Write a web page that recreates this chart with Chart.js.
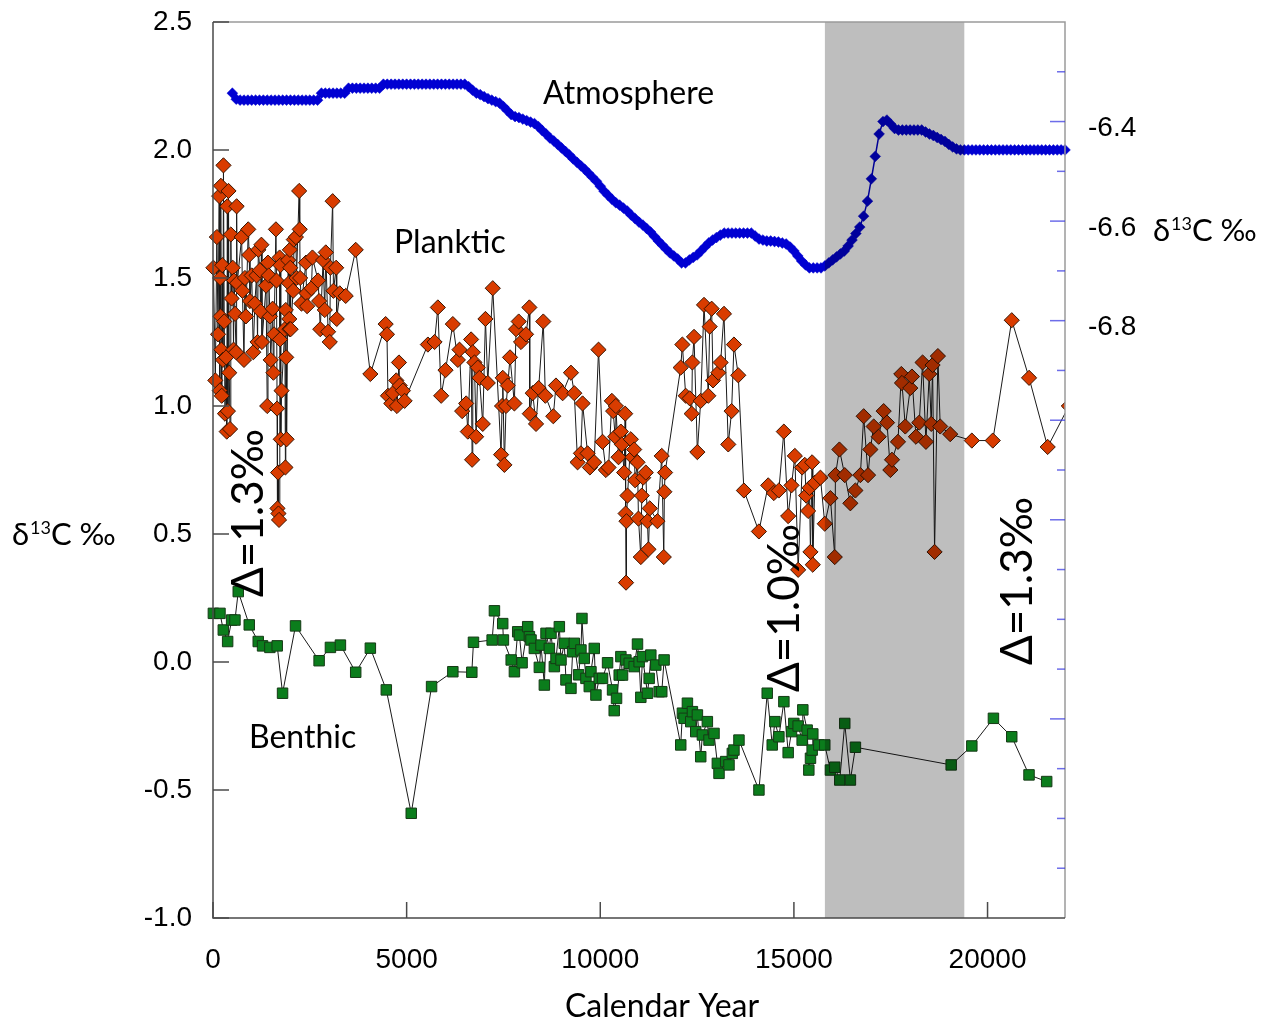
<!DOCTYPE html>
<html><head><meta charset="utf-8">
<script src="https://cdn.jsdelivr.net/npm/chart.js@4/dist/chart.umd.min.js"></script>
<style>html,body{margin:0;padding:0;background:#fff;}#wrap{width:1270px;height:1025px;}</style>
</head><body><div id="wrap"><canvas id="c" width="1270" height="1025"></canvas></div>
<script>
// ---------- DATA ----------
const xTickValues = [0, 5000, 10000, 15000, 20000];
const yTickValues = [-1.0, -0.5, 0.0, 0.5, 1.0, 1.5, 2.0, 2.5];
const rightTickValues = [-6.3,-6.4,-6.5,-6.6,-6.7,-6.8,-6.9,-7.0,-7.1,-7.2,-7.3,-7.4,-7.5,-7.6,-7.7,-7.8,-7.9];
const rightLabelValues = [-6.4, -6.6, -6.8];
const rightLongTicks = [-6.4, -6.6, -6.8, -7.0, -7.2, -7.6];
const bandRange = [15800, 19400];

const atmosYears = [500,600,700,800,900,1000,1100,1200,1300,1400,1500,1600,1700,1800,1900,2000,2100,2200,2300,2400,2500,2600,2700,2800,2900,3000,3100,3200,3300,3400,3500,3600,3700,3800,3900,4000,4100,4200,4300,4400,4500,4600,4700,4800,4900,5000,5100,5200,5300,5400,5500,5600,5700,5800,5900,6000,6100,6200,6300,6400,6500,6600,6700,6800,6900,7000,7100,7200,7300,7400,7500,7600,7700,7800,7900,8000,8100,8200,8300,8400,8500,8600,8700,8800,8900,9000,9100,9200,9300,9400,9500,9600,9700,9800,9900,10000,10100,10200,10300,10400,10500,10600,10700,10800,10900,11000,11100,11200,11300,11400,11500,11600,11700,11800,11900,12000,12100,12200,12300,12400,12500,12600,12700,12800,12900,13000,13100,13200,13300,13400,13500,13600,13700,13800,13900,14000,14100,14200,14300,14400,14500,14600,14700,14800,14900,15000,15100,15200,15300,15400,15500,15600,15700,15800,15900,16000,16100,16200,16300,16400,16500,16600,16700,16800,16900,17000,17100,17200,17300,17400,17500,17600,17700,17800,17900,18000,18100,18200,18300,18400,18500,18600,18700,18800,18900,19000,19100,19200,19300,19400,19500,19600,19700,19800,19900,20000,20100,20200,20300,20400,20500,20600,20700,20800,20900,21000,21100,21200,21300,21400,21500,21600,21700,21800,21900,22000];
const atmosValues = [-6.343,-6.355,
-6.357,-6.357,-6.357,-6.357,-6.357,-6.357,-6.357,-6.357,-6.357,-6.357,-6.357,-6.357,-6.357,-6.357,-6.357,-6.357,-6.357,-6.357,-6.357,-6.357,-6.357,
-6.343,-6.343,-6.343,-6.343,-6.343,-6.343,-6.343,
-6.333,-6.333,-6.333,-6.333,-6.333,-6.333,-6.333,-6.333,-6.333,
-6.325,-6.325,-6.325,-6.325,-6.325,-6.325,-6.325,-6.325,-6.325,-6.325,-6.325,-6.325,-6.325,-6.325,-6.325,-6.325,-6.325,-6.325,-6.325,-6.325,-6.325,-6.325,
-6.330,-6.337,-6.343,-6.346,-6.350,-6.354,-6.357,-6.360,-6.363,
-6.370,-6.378,-6.386,-6.390,-6.392,-6.395,-6.398,-6.401,-6.404,-6.410,
-6.418,-6.425,-6.433,-6.439,-6.446,-6.453,-6.460,-6.467,-6.475,-6.482,
-6.489,-6.496,-6.504,-6.512,-6.520,-6.530,-6.540,-6.548,-6.556,-6.563,
-6.568,-6.574,-6.580,-6.588,-6.595,-6.602,-6.608,-6.615,-6.622,-6.631,
-6.640,-6.648,-6.656,-6.664,-6.670,-6.676,-6.684,-6.684,-6.678,-6.673,
-6.668,-6.660,-6.652,-6.644,-6.638,-6.633,-6.628,-6.624,
-6.624,-6.624,-6.624,-6.624,-6.624,-6.624,-6.624,
-6.630,-6.636,-6.638,-6.640,-6.640,-6.641,-6.642,-6.644,-6.646,-6.652,-6.660,-6.670,-6.680,-6.688,
-6.694,-6.694,-6.694,-6.694,
-6.690,-6.684,-6.678,-6.672,-6.666,-6.660,-6.650,-6.638,-6.625,-6.612,-6.590,-6.560,-6.515,-6.470,-6.425,-6.400,-6.397,-6.405,-6.414,
-6.417,-6.417,-6.417,-6.417,-6.417,-6.417,-6.417,
-6.421,-6.425,-6.428,-6.432,-6.436,-6.440,-6.446,-6.451,-6.455,
-6.457,-6.457,-6.457,-6.457,-6.457,-6.457,-6.457,-6.457,-6.457,-6.457,-6.457,-6.457,-6.457,-6.457,-6.457,-6.457,-6.457,-6.457,-6.457,-6.457,-6.457,-6.457,-6.457,-6.457,-6.457,-6.457,-6.457,-6.457];

const plankticYears = [10,60,100,130,160,175,185,195,205,215,225,240,255,270,290,310,340,355,370,385,400,420,440,460,480,510,530,545,570,595,610,625,740,760,800,825,850,910,935,955,1000,1040,1080,1125,1150,1170,1210,1230,1250,1265,1370,1400,1420,1440,1470,1490,1540,1560,1575,1625,1640,1655,1665,1680,1690,1705,1720,1730,1740,1750,1770,1855,1870,1880,1890,1900,1940,1960,1970,1975,1985,1995,2005,2070,2087,2140,2156,2225,2240,2250,2284,2400,2414,2431,2543,2568,2714,2740,2770,2843,2886,2912,2972,3015,3032,3090,3110,3180,3195,3273,3427,3685,4063,4458,4492,4518,4604,4647,4732,4750,4802,4819,4904,4948,5549,5721,5806,5892,6004,6193,6322,6365,6434,6537,6580,6665,6691,6708,6751,6794,6837,6880,6966,7035,7095,7224,7439,7464,7482,7524,7567,7610,7670,7782,7825,7894,7954,8083,8169,8180,8255,8341,8409,8529,8581,8787,8856,9028,9243,9329,9414,9500,9543,9672,9732,9844,9955,10059,10144,10213,10299,10333,10385,10402,10471,10531,10557,10617,10643,10655,10665,10677,10703,10789,10832,10875,10900,10961,10986,11047,11072,11107,11175,11218,11244,11278,11476,11587,11640,11655,11673,12077,12120,12206,12309,12361,12378,12421,12507,12593,12679,12790,12825,12876,12911,13048,13108,13194,13305,13391,13452,13563,13709,14096,14336,14482,14611,14740,14852,14938,15024,15110,15213,15281,15316,15367,15402,15427,15470,15487,15539,15685,15797,15943,16055,16072,16175,16313,16458,16587,16716,16802,16914,16974,17060,17189,17318,17404,17490,17533,17687,17773,17790,17876,18005,18048,18151,18237,18323,18409,18495,18546,18581,18632,18718,18778,19036,19594,20135,20625,21072,21553,22100];
const plankticValues = [1.54,1.10,1.66,1.28,1.82,1.06,1.50,1.35,1.86,1.22,1.04,1.55,1.18,1.94,1.33,0.97,1.19,0.90,1.78,0.98,1.84,1.13,0.91,1.67,1.42,1.54,1.22,1.49,1.36,1.21,1.78,1.48,1.66,1.45,1.18,1.50,1.35,1.69,1.59,1.41,1.51,1.21,1.40,1.51,1.25,1.61,1.53,1.37,1.63,1.25,1.47,1.00,1.56,1.51,1.35,1.18,1.38,1.13,1.28,1.69,1.49,0.99,0.60,0.74,0.58,0.555,1.58,1.26,1.55,0.87,1.06,1.30,0.76,1.375,1.19,0.87,1.57,1.48,1.34,1.30,1.61,1.54,1.30,1.45,1.65,1.66,1.50,1.84,1.69,1.50,1.40,1.56,1.44,1.39,1.46,1.58,1.49,1.41,1.30,1.57,1.375,1.60,1.29,1.25,1.54,1.80,1.45,1.54,1.34,1.44,1.43,1.61,1.125,1.32,1.28,1.04,1.01,1.05,1.10,1.00,1.17,1.08,1.06,1.02,1.24,1.25,1.385,1.04,1.14,1.32,1.18,1.22,0.98,1.01,0.90,1.26,0.79,1.21,1.17,0.88,1.15,1.11,0.93,1.34,1.09,1.46,0.81,1.00,1.11,0.77,1.00,1.08,1.19,1.01,1.30,1.33,1.25,1.28,1.385,0.97,1.05,0.93,1.07,1.33,1.04,0.96,1.08,1.05,1.13,1.05,0.78,0.815,1.01,0.815,0.76,0.78,1.22,0.86,0.75,0.76,1.02,0.98,0.88,1.00,0.80,0.90,0.85,0.74,0.97,0.58,0.31,0.55,0.65,0.87,0.80,0.83,0.71,0.78,0.56,0.41,0.65,0.72,0.74,0.55,0.44,0.60,0.55,0.805,0.41,0.665,0.74,1.15,1.24,1.04,1.03,0.97,1.17,1.27,0.82,1.02,1.395,1.04,1.31,1.38,1.10,1.13,1.17,1.36,0.85,0.98,1.24,1.12,0.67,0.51,0.69,0.66,0.67,0.90,0.57,0.69,0.805,0.36,0.76,0.77,0.65,0.59,0.68,0.43,0.78,0.38,0.70,0.72,0.54,0.64,0.41,0.73,0.83,0.73,0.62,0.67,0.73,0.96,0.73,0.83,0.92,0.88,0.98,0.935,0.75,0.79,0.86,1.125,1.09,0.92,1.07,1.115,0.88,0.935,1.17,0.86,1.125,0.93,1.16,0.43,1.195,0.92,0.89,0.865,0.865,1.335,1.11,0.84,1.00];

const benthicYears = [10,180,266,378,481,567,652,936,1168,1280,1469,1658,1796,2131,2740,3032,3290,3685,4063,4475,5119,5644,6193,6683,6726,7208,7267,7481,7499,7700,7783,7868,7912,7981,8126,8170,8212,8298,8427,8470,8556,8599,8685,8728,8814,8857,8943,8986,9071,9114,9243,9286,9329,9441,9501,9527,9587,9630,9716,9759,9845,9888,9973,10059,10188,10317,10360,10420,10489,10532,10575,10661,10747,10875,10961,11004,11047,11090,11219,11262,11305,11434,11520,11588,11648,12078,12121,12164,12250,12336,12379,12465,12508,12594,12637,12765,12808,12937,13023,13066,13238,13324,13410,13452,13581,14097,14311,14440,14509,14612,14741,14852,14938,14998,15110,15213,15230,15342,15385,15428,15471,15488,15643,15797,15943,16055,16184,16313,16459,16588,19061,19594,20152,20625,21071,21527];
const benthicValues = [0.19,0.19,0.125,0.08,0.164,0.164,0.275,0.145,0.08,0.063,0.057,0.063,-0.122,0.141,0.005,0.057,0.066,-0.04,0.054,-0.109,-0.591,-0.096,-0.038,-0.04,0.077,0.086,0.2,0.15,0.086,0.008,-0.038,0.118,0.105,-0.003,0.138,0.099,0.086,0.053,-0.021,0.066,-0.09,0.112,0.053,0.112,-0.018,0.014,0.138,0.008,0.073,-0.07,-0.103,0.04,0.073,-0.05,0.047,0.17,0.014,-0.064,-0.096,-0.038,0.053,-0.129,-0.064,-0.064,-0.003,-0.109,-0.19,-0.142,-0.051,0.021,-0.051,0.008,-0.005,-0.018,0.07,0.001,-0.138,0.021,-0.122,-0.064,0.027,-0.012,-0.116,-0.116,0.008,-0.324,-0.2,-0.22,-0.161,-0.233,-0.194,-0.272,-0.207,-0.37,-0.285,-0.233,-0.305,-0.279,-0.396,-0.435,-0.389,-0.402,-0.357,-0.344,-0.305,-0.5,-0.122,-0.324,-0.233,-0.292,-0.155,-0.354,-0.272,-0.24,-0.25,-0.305,-0.187,-0.266,-0.422,-0.376,-0.344,-0.281,-0.324,-0.324,-0.422,-0.411,-0.461,-0.24,-0.461,-0.333,-0.402,-0.328,-0.22,-0.292,-0.441,-0.467];

const seriesLabels = ['Atmosphere', 'Planktic', 'Benthic'];
const deltaLabels = ['Δ=1.3‰', 'Δ=1.0‰', 'Δ=1.3‰'];

// ---------- HELPERS ----------
const pts = (xs, ys) => xs.map((x, i) => ({x: x, y: ys[i]}));
const near = (arr, v) => arr.some(a => Math.abs(a - v) < 1e-6);
const TXT = "Lato, 'DejaVu Sans', sans-serif";
const NUM = "'Liberation Sans', Arial, sans-serif";

function drawDeltaTitle(ctx, x, yBase, size) {
  ctx.textAlign = 'left'; ctx.textBaseline = 'alphabetic'; ctx.fillStyle = '#000';
  ctx.font = size + 'px ' + TXT;
  ctx.fillText('δ', x, yBase);
  let cx = x + ctx.measureText('δ').width + 1;
  ctx.font = Math.round(size * 0.58) + 'px ' + TXT;
  ctx.fillText('13', cx, yBase - size * 0.36);
  cx += ctx.measureText('13').width;
  ctx.font = size + 'px ' + TXT;
  ctx.fillText('C ‰', cx, yBase);
}

const decoPlugin = {
  id: 'deco',
  afterDatasetsDraw(chart) {
    const {ctx, chartArea: a, scales: {x}} = chart;
    const x0 = x.getPixelForValue(bandRange[0]), x1 = x.getPixelForValue(bandRange[1]);
    ctx.save();
    ctx.fillStyle = 'rgba(0,0,0,0.255)';
    ctx.fillRect(x0, a.top, x1 - x0, a.bottom - a.top);
    ctx.restore();
  },
  afterDraw(chart) {
    const {ctx, chartArea: a, scales: {x, y, y2}} = chart;
    ctx.save();
    ctx.lineWidth = 1.5;
    ctx.strokeStyle = '#9a9a9a';
    ctx.beginPath(); ctx.moveTo(a.left, a.top); ctx.lineTo(a.right, a.top); ctx.lineTo(a.right, a.bottom); ctx.stroke();
    ctx.strokeStyle = '#4a4a4a';
    ctx.beginPath(); ctx.moveTo(a.left, a.top); ctx.lineTo(a.left, a.bottom); ctx.lineTo(a.right, a.bottom); ctx.stroke();
    y.ticks.forEach(t => { const p = y.getPixelForValue(t.value); ctx.beginPath(); ctx.moveTo(a.left, p); ctx.lineTo(a.left + 16, p); ctx.stroke(); });
    x.ticks.forEach(t => { const p = x.getPixelForValue(t.value); ctx.beginPath(); ctx.moveTo(p, a.bottom); ctx.lineTo(p, a.bottom - 16); ctx.stroke(); });
    ctx.strokeStyle = 'rgba(60,60,225,0.75)';
    y2.ticks.forEach(t => { const p = y2.getPixelForValue(t.value); const L = near(rightLongTicks, t.value) ? 15 : 8; ctx.beginPath(); ctx.moveTo(a.right, p); ctx.lineTo(a.right - L, p); ctx.stroke(); });
    ctx.fillStyle = '#000'; ctx.textAlign = 'left'; ctx.textBaseline = 'alphabetic';
    ctx.font = '32px ' + TXT;
    ctx.fillText(seriesLabels[0], 543, 104);
    ctx.fillText(seriesLabels[1], 394, 253);
    ctx.fillText(seriesLabels[2], 249, 748);
    drawDeltaTitle(ctx, 12, 545, 31);
    drawDeltaTitle(ctx, 1153, 241, 31);
    ctx.textAlign = 'center';
    ctx.font = '32px ' + TXT;
    ctx.fillText('Calendar Year', 662, 1017);
    const dpos = [[263, 597], [799, 692], [1032, 665]];
    ctx.font = '44px ' + TXT; ctx.textAlign = 'left';
    dpos.forEach((p, i) => {
      ctx.save(); ctx.translate(p[0], p[1]); ctx.rotate(-Math.PI / 2);
      ctx.fillText(deltaLabels[i], 0, 0); ctx.restore();
    });
    ctx.restore();
  }
};

const zeroPadV = s => { s.paddingTop = 0; s.paddingBottom = 0; };

new Chart(document.getElementById('c').getContext('2d'), {
  type: 'scatter',
  data: {
    datasets: [
      { label: 'Benthic', data: pts(benthicYears, benthicValues), yAxisID: 'y', showLine: true,
        borderColor: '#1a1a1a', borderWidth: 1, pointStyle: 'rect', pointRadius: 7.4,
        pointBackgroundColor: '#0b7d1c', pointBorderColor: '#163a16', pointBorderWidth: 1, clip: false },
      { label: 'Planktic', data: pts(plankticYears, plankticValues), yAxisID: 'y', showLine: true,
        borderColor: '#1a1a1a', borderWidth: 1, pointStyle: 'rectRot', pointRadius: 7.6,
        pointBackgroundColor: '#d93c00', pointBorderColor: '#3a1500', pointBorderWidth: 1,
        clip: {left: 12, top: 12, right: 0, bottom: 12} },
      { label: 'Atmosphere', data: pts(atmosYears, atmosValues), yAxisID: 'y2', showLine: true,
        borderColor: '#0000c8', borderWidth: 1.5, pointStyle: 'rectRot', pointRadius: 5.4,
        pointBackgroundColor: '#0000d2', pointBorderColor: '#0000d2', pointBorderWidth: 0.5, clip: false }
    ]
  },
  options: {
    responsive: false, animation: false, devicePixelRatio: 1,
    layout: { padding: { top: 22, left: 0, right: 0, bottom: 0 } },
    plugins: { legend: { display: false }, tooltip: { enabled: false } },
    scales: {
      x: { type: 'linear', position: 'bottom', min: 0, max: 22000,
        grid: { display: false, drawTicks: false }, border: { display: false },
        afterBuildTicks: s => { s.ticks = xTickValues.map(v => ({value: v})); },
        afterFit: s => { s.height = 107; s.paddingLeft = 0; s.paddingRight = 0; },
        ticks: { color: '#000', font: { family: NUM, size: 28 }, padding: 25, maxRotation: 0, autoSkip: false,
          callback: v => String(v) } },
      y: { type: 'linear', position: 'left', min: -1, max: 2.5,
        grid: { display: false, drawTicks: false }, border: { display: false },
        afterBuildTicks: s => { s.ticks = yTickValues.map(v => ({value: v})); },
        afterFit: s => { s.width = 213; zeroPadV(s); },
        ticks: { color: '#000', font: { family: NUM, size: 28 }, padding: 21, autoSkip: false,
          callback: v => Number(v).toFixed(1) } },
      y2: { type: 'linear', position: 'right', min: -8.0, max: -6.2,
        grid: { display: false, drawTicks: false }, border: { display: false },
        afterBuildTicks: s => { s.ticks = rightTickValues.map(v => ({value: v})); },
        afterFit: s => { s.width = 205; zeroPadV(s); },
        ticks: { color: '#000', font: { family: NUM, size: 28 }, padding: 23, autoSkip: false, labelOffset: 7,
          callback: v => near(rightLabelValues, v) ? Number(v).toFixed(1) : '' } }
    }
  },
  plugins: [decoPlugin]
});
</script></body></html>
